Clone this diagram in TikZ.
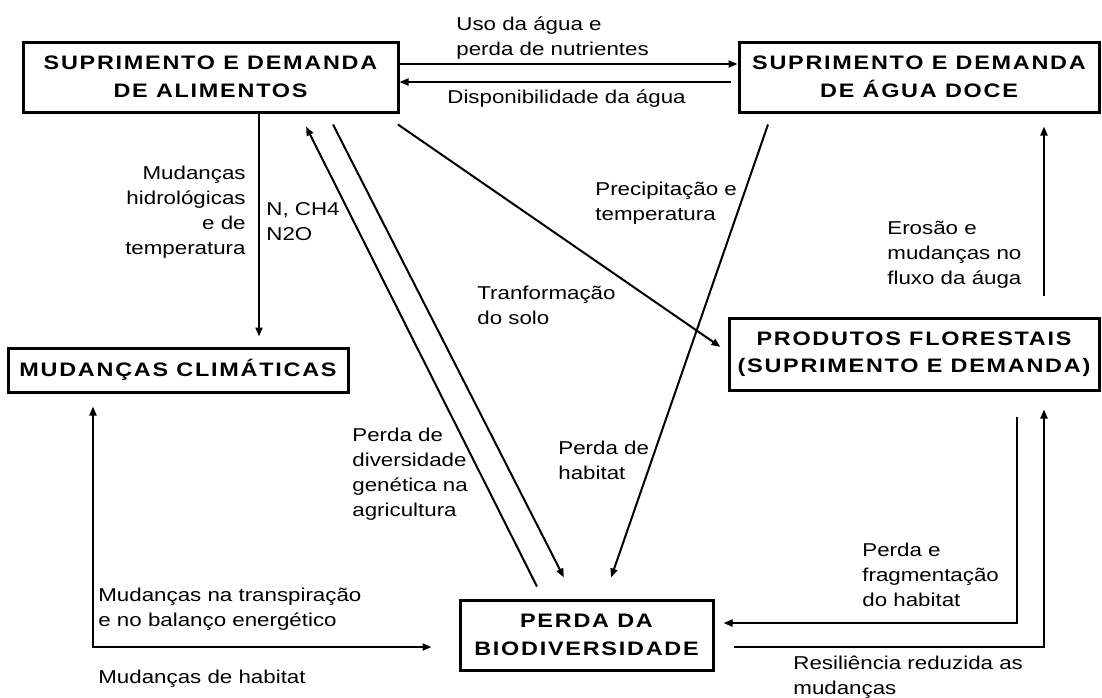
\documentclass[tikz,border=0pt]{standalone}
\usepackage{fontspec}
\setmainfont[FakeStretch=1.2]{Liberation Sans}
\usetikzlibrary{arrows.meta}

\begin{document}
\begin{tikzpicture}[x=0.5pt, y=-0.5pt,
  box/.style={draw, line width=1.5pt, inner sep=0pt, align=center,
    font=\fontsize{9.75pt}{13.75pt}\selectfont\bfseries\addfontfeature{LetterSpace=9}},
  lbl/.style={inner sep=0pt, align=left, font=\fontsize{9.3pt}{12.5pt}\selectfont},
  arr/.style={line width=1pt, -{Triangle[length=4.5pt,width=3.5pt]}},
  arrboth/.style={line width=1pt, {Triangle[length=4.5pt,width=3.5pt]}-{Triangle[length=4.5pt,width=3.5pt]}}]
\useasboundingbox (0,0) rectangle (1102,697);
\node[box, minimum width=187.5pt, minimum height=35pt] (food) at (210.5,77) {SUPRIMENTO E DEMANDA\\DE ALIMENTOS};
\node[box, minimum width=180pt, minimum height=35pt] (water) at (919,77) {SUPRIMENTO E DEMANDA\\DE ÁGUA DOCE};
\node[box, minimum width=170pt, minimum height=22pt] (clima) at (178,370) {MUDANÇAS CLIMÁTICAS};
\node[box, minimum width=185pt, minimum height=36pt] (forest) at (914,354) {PRODUTOS FLORESTAIS\\(SUPRIMENTO E DEMANDA)};
\node[box, minimum width=126.5pt, minimum height=35pt] (bio) at (586.5,635) {PERDA DA\\BIODIVERSIDADE};
\draw[arr] (food.east |- 0,64) -- (water.west |- 0,64);
\draw[arr, shorten <=3.5pt] (water.west |- 0,82) -- (food.east |- 0,82);
\draw[arr, shorten >=5pt] (259,0 |- food.south) -- (259,0 |- clima.north);
\draw[arrboth, shorten <=6.5pt, shorten >=13.5pt] (93,0 |- clima.south) |- (bio.west |- 0,647);
\draw[arr, shorten <=6.2pt, shorten >=11.8pt] (food.south -| 327.4,0) -- (bio.north -| 574.6,0);
\draw[arr, shorten <=6.7pt, shorten >=7.3pt] (bio.north -| 543,0) -- (food.south -| 299.5,0);
\draw[arr, shorten <=9.7pt, shorten >=4.3pt] (food.south -| 382,0) -- (forest.west |- 0,351.8);
\draw[arr, shorten <=5.8pt, shorten >=11.1pt] (water.south -| 771.8,0) -- (bio.north -| 603.8,0);
\draw[arr, shorten <=10.5pt, shorten >=6.5pt] (1044,0 |- forest.north) -- (1044,0 |- water.south);
\draw[arr, shorten <=12.5pt, shorten >=4.5pt] (1017,0 |- forest.south) |- (bio.east |- 0,623);
\draw[arr, shorten <=9.5pt, shorten >=9pt] (bio.east |- 0,647) -| (1044,0 |- forest.south);
\node[lbl, anchor=north west] (luso) at (456,16.5) {Uso da água e\\perda de nutrientes};
\node[lbl, anchor=north west] (ldisp) at (447,89.5) {Disponibilidade da água};
\node[lbl, anchor=north east, align=right] (lhidro) at (246,166) {Mudanças\\hidrológicas\\e de\\temperatura};
\node[lbl, anchor=north west] (lgas) at (266,202) {N, CH4\\N2O};
\node[lbl, anchor=north west] (lprec) at (595,182) {Precipitação e\\temperatura};
\node[lbl, anchor=north west] (lsolo) at (477,286) {Tranformação\\do solo};
\node[lbl, anchor=north west] (lerosao) at (887,221) {Erosão e\\mudanças no\\fluxo da áuga};
\node[lbl, anchor=north west] (lgen) at (352,428) {Perda de\\diversidade\\genética na\\agricultura};
\node[lbl, anchor=north west] (lhab) at (558,441) {Perda de\\habitat};
\node[lbl, anchor=north west] (lfrag) at (862,543) {Perda e\\fragmentação\\do habitat};
\node[lbl, anchor=north west] (ltransp) at (98,588) {Mudanças na transpiração\\e no balanço energético};
\node[lbl, anchor=north west] (lmhab) at (98,670) {Mudanças de habitat};
\node[lbl, anchor=north west] (lresil) at (793,656) {Resiliência reduzida as\\mudanças};
\end{tikzpicture}
\end{document}
